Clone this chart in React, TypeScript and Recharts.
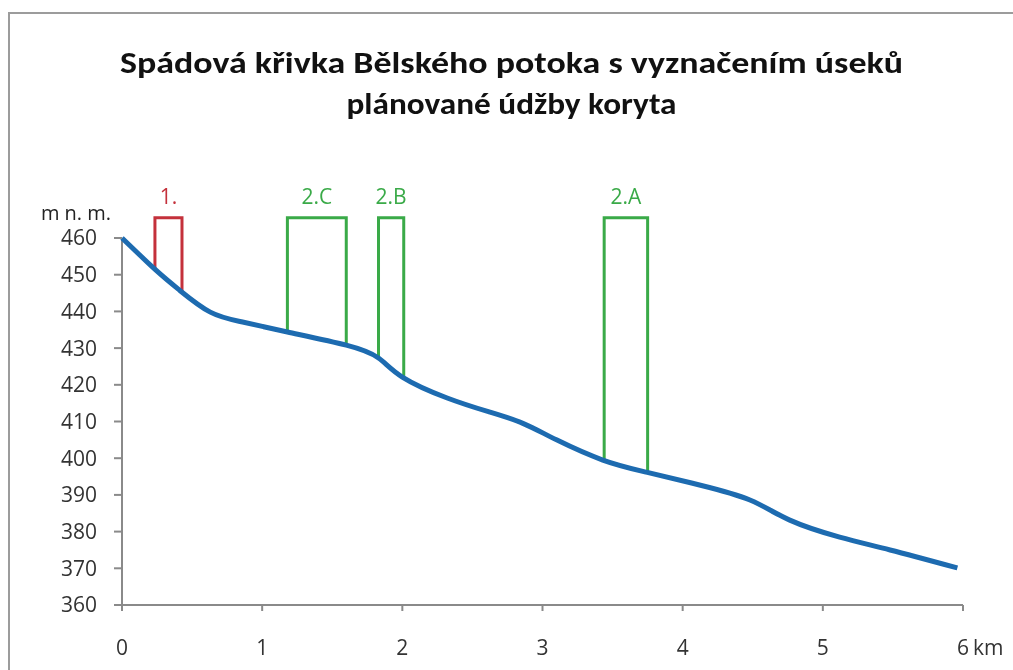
import React from "react";
import {
  Label,
  Line,
  LineChart,
  ReferenceDot,
  ReferenceLine,
  XAxis,
  YAxis,
} from "recharts";

// podélný profil toku: km od pramene, nadmořská výška (m n. m.)
const profileKm = [
  0, 0.24, 0.41, 0.63, 0.86, 1.18, 1.6, 1.83, 2.0, 2.32, 2.62, 2.86, 3.1,
  3.43, 3.74, 4.12, 4.48, 4.76, 5.12, 5.48, 5.96,
];
const profileAlt = [
  460, 451.3, 445.8, 439.8, 437.1, 434.4, 430.8, 427.3, 422.1, 416.4, 412.6,
  409.5, 405.0, 399.5, 396.2, 392.7, 388.6, 383.2, 378.5, 375.0, 370.1,
];

// úseky plánované údržby
const sectionNames = ["1.", "2.C", "2.B", "2.A"];
const sectionStartKm = [0.235, 1.18, 1.83, 3.44];
const sectionEndKm = [0.428, 1.6, 2.01, 3.75];
const sectionStartAlt = [451.5, 434.4, 427.3, 399.3];
const sectionEndAlt = [445.5, 430.8, 421.9, 396.0];
const sectionTopAlt = 465.5;
const sectionColors = ["#c4313b", "#3aaa48", "#3aaa48", "#3aaa48"];

const xTicks = [0, 1, 2, 3, 4, 5, 6];
const yTicks = [360, 370, 380, 390, 400, 410, 420, 430, 440, 450, 460];

const titleLines = [
  "Spádová křivka Bělského potoka s vyznačením úseků",
  "plánované údžby koryta",
];

const FONT = "'Open Sans', 'Noto Sans', sans-serif";
const AXIS = "#8a8a8a";
const FRAME = "#9c9c9c";

const profile = profileKm.map((km, i) => ({ km, alt: profileAlt[i] }));

const sections = sectionNames.map((name, i) => ({
  name,
  color: sectionColors[i],
  mid: (sectionStartKm[i] + sectionEndKm[i]) / 2,
  points: [
    { km: sectionStartKm[i], alt: sectionStartAlt[i] },
    { km: sectionStartKm[i], alt: sectionTopAlt },
    { km: sectionEndKm[i], alt: sectionTopAlt },
    { km: sectionEndKm[i], alt: sectionEndAlt[i] },
  ],
}));

const XTick = (props: any) => {
  const { x, y, payload } = props;
  return (
    <g>
      <text
        x={x}
        y={y}
        dy="0.71em"
        textAnchor="middle"
        fill="#333"
        fontSize={21}
        fontFamily={FONT}
      >
        {payload.value}
      </text>
      {payload.value === 6 && (
        <text
          x={x + 10}
          y={y}
          dy="0.71em"
          textAnchor="start"
          fill="#333"
          fontSize={21}
          fontFamily={FONT}
        >
          km
        </text>
      )}
    </g>
  );
};

const App = () => {
  return (
    <div
      style={{
        position: "relative",
        width: 997,
        height: 654,
        background: "#fff",
      }}
    >
      {/* rámeček grafu (pravý a dolní okraj jsou mimo výřez) */}
      <div
        style={{
          position: "fixed",
          left: 8,
          top: 12,
          width: 1005,
          height: 2,
          background: FRAME,
        }}
      />
      <div
        style={{
          position: "fixed",
          left: 8,
          top: 12,
          width: 2,
          height: 658,
          background: FRAME,
        }}
      />
      <svg
        width={997}
        height={130}
        style={{ position: "absolute", left: 0, top: 0 }}
      >
        {titleLines.map((t, i) => (
          <text
            key={t}
            x={503.5}
            y={64.5 + i * 41}
            textAnchor="middle"
            fontFamily="Carlito, Lato, sans-serif"
            fontWeight="bold"
            fontSize={30}
            fill="#111"
            textLength={i === 0 ? 783 : 330}
            lengthAdjust="spacingAndGlyphs"
          >
            {t}
          </text>
        ))}
      </svg>
      <div style={{ position: "absolute", left: 0, top: 0 }}>
        <LineChart
          width={997}
          height={654}
          margin={{ top: 208, right: 42, bottom: 0, left: 22 }}
        >
          <XAxis
            type="number"
            dataKey="km"
            domain={[0, 6]}
            ticks={xTicks}
            height={57}
            stroke={AXIS}
            strokeWidth={2}
            tickSize={6}
            tickMargin={29}
            tick={<XTick />}
          />
          <YAxis
            type="number"
            dataKey="alt"
            domain={[360, 466]}
            ticks={yTicks}
            width={92}
            axisLine={false}
            tickLine={{ stroke: AXIS, strokeWidth: 2 }}
            tickSize={8}
            tickMargin={17}
            tick={{ fill: "#333", fontSize: 21, fontFamily: FONT }}
          >
            <Label
              value="m n. m."
              position="top"
              offset={-4}
              fill="#222"
              fontSize={20}
              fontFamily={FONT}
            />
          </YAxis>
          <ReferenceLine
            segment={[
              { x: 0, y: 360 },
              { x: 0, y: 460 },
            ]}
            stroke={AXIS}
            strokeWidth={2}
          />
          {sections.map((s) => (
            <Line
              key={s.name}
              data={s.points}
              dataKey="alt"
              type="linear"
              stroke={s.color}
              strokeWidth={3}
              dot={false}
              activeDot={false}
              isAnimationActive={false}
            />
          ))}
          <Line
            data={profile}
            dataKey="alt"
            type="natural"
            stroke="#1d6bb0"
            strokeWidth={5}
            dot={false}
            activeDot={false}
            isAnimationActive={false}
          />
          {sections.map((s) => (
            <ReferenceDot
              key={"lbl" + s.name}
              x={s.mid}
              y={sectionTopAlt}
              r={0}
              stroke="none"
              fill="none"
              label={{
                value: s.name,
                position: "top",
                offset: 14,
                fill: s.color,
                fontSize: 21,
                fontFamily: FONT,
              }}
            />
          ))}
        </LineChart>
      </div>
    </div>
  );
};

export default App;
